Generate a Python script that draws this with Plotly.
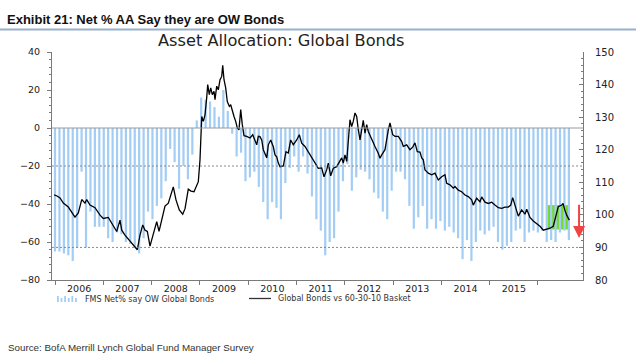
import plotly.graph_objects as go

# ---------------- data ----------------
years = ["2006", "2007", "2008", "2009", "2010", "2011", "2012", "2013", "2014", "2015"]

# FMS net % of asset allocators overweight global bonds (left axis), one bar per survey
fms_net_ow = [-65, -65, -66, -67, -70, -63, -23, -63, -44, -52,
              -52, -52, -58, -60, -55, -56, -60, -61, -63, -66,
              -58, -44, -48, -41, -37, -28, -11, -18, -32, -20,
              -27, -14, 4, 16, 15, 14, 11, 6, 20, 9,
              -3, -15, -13, -28, -26, -23, -31, -39, -48, -39,
              -42, -48, -29, -21, -15, -23, -15, -24, -36, -48,
              -54, -67, -60, -58, -44, -28, -19, -33, -26, -22,
              -23, -27, -34, -37, -44, -48, -33, -23, -23, -27,
              -41, -53, -47, -41, -53, -48, -53, -49, -54, -52,
              -55, -58, -69, -59, -70, -60, -54, -56, -54, -52,
              -60, -64, -62, -60, -54, -53, -60, -55, -54, -55,
              -54, -60, -59, -60, -55, -54, -59]
survey_period = list(range(len(fms_net_ow)))

# Global Bonds vs 60-30-10 basket (right axis), position in survey periods
basket_period = [-0.2, 0.45, 1.13, 1.87, 3.0, 4.13, 4.51, 5.26, 6.03, 6.77, 7.16, 7.9, 9.03, 10.16, 10.9,
                 12.03, 13.16, 13.93, 14.67, 15.06, 15.8, 16.93, 17.67, 18.58, 19.19, 19.8, 20.32, 20.84,
                 21.44, 22.19, 22.96, 23.48, 24.22, 24.83, 25.58, 26.12, 26.7, 27.31, 28.06, 28.83, 29.35,
                 30.09, 30.7, 31.38, 32.35, 32.73, 32.89, 33.12, 33.48, 33.86, 34.24, 34.47, 34.83, 35.15,
                 35.51, 35.89, 36.12, 36.5, 36.86, 37.25, 37.63, 37.86, 38.15, 38.53, 38.89, 39.35, 39.66,
                 40.02, 40.41, 40.79, 41.15, 41.53, 41.92, 42.28, 42.66, 43.27, 44.02, 44.63, 45.15, 45.53,
                 45.89, 46.27, 46.66, 47.02, 47.79, 48.15, 48.69, 49.28, 49.66, 50.05, 50.41, 50.79, 51.54,
                 52.14, 52.66, 53.2, 53.79, 54.56, 55.15, 55.69, 56.43, 57.18, 57.95, 58.69, 59.44, 60.2,
                 60.72, 61.33, 61.69, 62.23, 62.82, 63.59, 64.18, 64.72, 65.08, 65.46, 65.85, 66.21, 66.59,
                 66.97, 67.33, 67.72, 68.1, 68.47, 68.85, 69.23, 69.59, 69.98, 70.36, 70.72, 71.49, 72.23,
                 72.98, 73.36, 73.75, 74.49, 75.24, 75.62, 76.23, 76.75, 77.5, 78.26, 78.62, 79.39, 80.13,
                 80.74, 81.26, 81.78, 82.39, 82.78, 83.14, 83.52, 84.27, 85.03, 85.78, 86.52, 87.29, 88.03,
                 88.42, 89.16, 89.91, 90.29, 91.04, 91.8, 92.55, 93.29, 94.06, 94.42, 95.19, 95.93, 96.32,
                 97.06, 97.81, 98.58, 99.32, 100.07, 100.83, 101.58, 102.32, 102.87, 103.32, 103.84, 104.58,
                 105.35, 106.1, 106.48, 107.22, 107.97, 108.74, 109.48, 110.23, 111.0, 111.74, 112.48,
                 112.87, 113.25, 113.61, 114.38, 114.68, 115.13, 115.51, 116.1]
basket_value = [106.1, 105.8, 105.2, 103.6, 102.4, 99.9, 99.3, 100.6, 104.7, 103.6, 104.7, 103.0, 102.2, 99.9,
                98.9, 99.2, 96.4, 94.9, 98.4, 95.3, 93.8, 92.1, 90.7, 89.3, 93.8, 96.9, 95.3, 94.9, 90.4,
                93.8, 97.9, 94.9, 98.9, 102.7, 103.6, 106.1, 108.6, 104.6, 101.5, 100.2, 101.9, 107.9, 107.3,
                107.1, 110.2, 116.9, 123.7, 130.2, 128.7, 130.7, 135.9, 140.0, 136.9, 139.0, 136.9, 137.9,
                135.4, 139.5, 138.4, 141.5, 142.5, 145.9, 141.5, 139.0, 134.8, 133.3, 133.8, 131.8, 130.2,
                128.7, 126.7, 126.1, 132.3, 127.7, 124.3, 124.1, 123.6, 124.6, 122.7, 121.5, 124.1, 124.0,
                123.0, 120.0, 117.5, 121.5, 123.0, 120.9, 118.4, 117.8, 115.9, 114.8, 115.0, 119.4, 119.0,
                123.0, 121.5, 123.0, 124.6, 122.0, 121.0, 119.4, 117.9, 115.9, 114.3, 114.4, 111.7, 113.8,
                115.9, 112.0, 114.3, 114.8, 116.4, 117.5, 115.9, 118.4, 116.4, 122.0, 129.2, 127.1, 128.7,
                131.3, 130.2, 126.1, 123.0, 126.1, 129.0, 125.1, 127.7, 125.6, 123.0, 121.0, 118.9, 117.4,
                118.4, 120.0, 126.1, 128.2, 124.6, 124.1, 124.1, 122.5, 121.0, 121.5, 120.0, 120.8, 122.1,
                119.4, 119.3, 117.5, 116.9, 113.8, 112.8, 112.3, 112.8, 110.7, 111.7, 112.3, 109.7, 109.2,
                108.2, 108.7, 107.6, 107.1, 106.1, 105.6, 104.6, 103.0, 105.1, 104.0, 105.5, 103.9, 103.5,
                103.9, 103.0, 102.2, 102.0, 102.4, 102.4, 103.0, 105.3, 102.6, 99.6, 101.5, 100.2, 101.7,
                99.2, 98.1, 97.4, 96.5, 95.3, 95.6, 95.9, 96.5, 98.4, 101.0, 102.5, 103.0, 103.5, 101.3,
                99.9, 98.4]

# reference levels
zero_level = 0
upper_band = -20       # left axis
lower_band = 90        # right axis

# highlight box (recent rally) and arrow (sell-off)
box_period = [111.2, 116.2]
box_value = [95.5, 103.0]
arrow_period = 118.3
arrow_from_to = [103.6, 92.9]

# ---------------- layout helpers ----------------
W, H = 636, 361
L, R, T, B = 52, 53, 52, 81
PW, PH = W - L - R, H - T - B


def px(x):
    return (x - L) / PW


def py(y):
    return (H - B - y) / PH


periods_per_year = 10.903
year_label_pos = [periods_per_year * (k + 0.5) for k in range(len(years))]
year_tick_pos = [periods_per_year * k for k in range(len(years) + 1)]

BAR_COLOR = "#A3CDF5"
AX_COLOR = "#7a7a7a"
TXT = "#222222"
FONT = "DejaVu Sans"
NARROW = "Liberation Sans, Arial, sans-serif"

fig = go.Figure()
fig.add_trace(go.Bar(x=survey_period, y=fms_net_ow, marker=dict(color=BAR_COLOR, line=dict(width=0)),
                     width=0.5, showlegend=False, yaxis="y"))
fig.add_trace(go.Scatter(x=basket_period, y=basket_value, mode="lines",
                         line=dict(color="black", width=1.3), showlegend=False, yaxis="y2"))

shapes = []
shapes.append(dict(type="rect", xref="x", yref="y2", x0=box_period[0], x1=box_period[1],
                   y0=box_value[0], y1=box_value[1], fillcolor="#74DB2A", line=dict(width=0), layer="below"))
shapes.append(dict(type="line", xref="paper", yref="y", x0=0, x1=1, y0=zero_level, y1=zero_level,
                   line=dict(color="#9a9a9a", width=1), layer="above"))
shapes.append(dict(type="line", xref="paper", yref="y", x0=0, x1=1, y0=upper_band, y1=upper_band,
                   line=dict(color="#8a8a8a", width=1, dash="2px,2px"), layer="above"))
shapes.append(dict(type="line", xref="paper", yref="y2", x0=0, x1=1, y0=lower_band, y1=lower_band,
                   line=dict(color="#8a8a8a", width=1, dash="2px,2px"), layer="above"))
shapes.append(dict(type="line", xref="paper", yref="paper", x0=px(0), x1=px(636), y0=py(29.5), y1=py(29.5),
                   line=dict(color="#9AAFCB", width=2)))
stripe_heights = [6, 4, 6, 4, 6, 4]
for k, hgt in enumerate(stripe_heights):
    xs = 57 + k * 3.6
    shapes.append(dict(type="rect", xref="paper", yref="paper", x0=px(xs), x1=px(xs + 1.8),
                       y0=py(302), y1=py(302 - hgt), fillcolor=BAR_COLOR, line=dict(width=0)))
shapes.append(dict(type="line", xref="paper", yref="paper", x0=px(249), x1=px(271), y0=py(298.5), y1=py(298.5),
                   line=dict(color="#333333", width=1.3)))

annotations = []
annotations.append(dict(text="<b>Exhibit 21: Net % AA Say they are OW Bonds</b>", xref="paper", yref="paper",
                        x=px(5), y=py(19), xanchor="left", yanchor="middle", showarrow=False,
                        font=dict(family=NARROW, size=13, color="#111111")))
annotations.append(dict(text="Asset Allocation: Global Bonds", xref="paper", yref="paper",
                        x=px(281), y=py(40), xanchor="center", yanchor="middle", showarrow=False,
                        font=dict(family=FONT, size=16.2, color=TXT)))
annotations.append(dict(text="Source: BofA Merrill Lynch Global Fund Manager Survey", xref="paper", yref="paper",
                        x=px(6), y=py(347), xanchor="left", yanchor="middle", showarrow=False,
                        font=dict(family=NARROW, size=9.8, color="#333333")))
annotations.append(dict(text="FMS Net% say OW Global Bonds", xref="paper", yref="paper",
                        x=px(83), y=py(299), xanchor="left", yanchor="middle", showarrow=False,
                        font=dict(family=FONT, size=8, color="#333333")))
annotations.append(dict(text="Global Bonds vs 60-30-10 Basket", xref="paper", yref="paper",
                        x=px(276), y=py(298), xanchor="left", yanchor="middle", showarrow=False,
                        font=dict(family=FONT, size=8, color="#333333")))
annotations.append(dict(text="", x=arrow_period, y=arrow_from_to[1], xref="x", yref="y2",
                        ax=arrow_period, ay=arrow_from_to[0], axref="x", ayref="y2",
                        showarrow=True, arrowhead=2, arrowsize=1.2, arrowwidth=2, arrowcolor="#F04444",
                        standoff=0))

fig.update_layout(
    width=W, height=H,
    margin=dict(l=L, r=R, t=T, b=B, pad=0),
    paper_bgcolor="white", plot_bgcolor="white",
    bargap=0.5,
    showlegend=False,
    shapes=shapes,
    annotations=annotations,
    xaxis=dict(range=[-0.68, 119.19], tickmode="array", tickvals=year_label_pos, ticktext=years,
               ticks="", showgrid=False, zeroline=False, showline=True, linecolor=AX_COLOR, linewidth=1,
               tickfont=dict(family=FONT, size=9.5, color=TXT),
               minor=dict(tickmode="array", tickvals=year_tick_pos, ticks="outside", ticklen=4,
                          tickcolor=AX_COLOR, showgrid=False)),
    yaxis=dict(range=[-80, 40], tickmode="linear", tick0=-80, dtick=20, ticks="outside", ticklen=4,
               tickcolor=AX_COLOR, showgrid=False, zeroline=False, showline=True, linecolor=AX_COLOR,
               linewidth=1, tickfont=dict(family=FONT, size=9.5, color=TXT), ticklabelstandoff=5,
               minor=dict(dtick=4, tick0=-80, ticks="outside", ticklen=2, tickcolor=AX_COLOR, showgrid=False)),
    yaxis2=dict(range=[80, 150], overlaying="y", side="right", anchor="x", tickmode="linear", tick0=80,
                dtick=10, ticks="inside", ticklen=4, tickcolor=AX_COLOR, showgrid=False, zeroline=False,
                showline=True, linecolor=AX_COLOR, linewidth=1,
                tickfont=dict(family=FONT, size=10, color=TXT), ticklabelstandoff=9,
                minor=dict(dtick=2, tick0=80, ticks="inside", ticklen=2, tickcolor=AX_COLOR, showgrid=False)),
)

fig.write_html("out.html", config={"displayModeBar": False},
               post_script="document.body.style.margin='0px';")
